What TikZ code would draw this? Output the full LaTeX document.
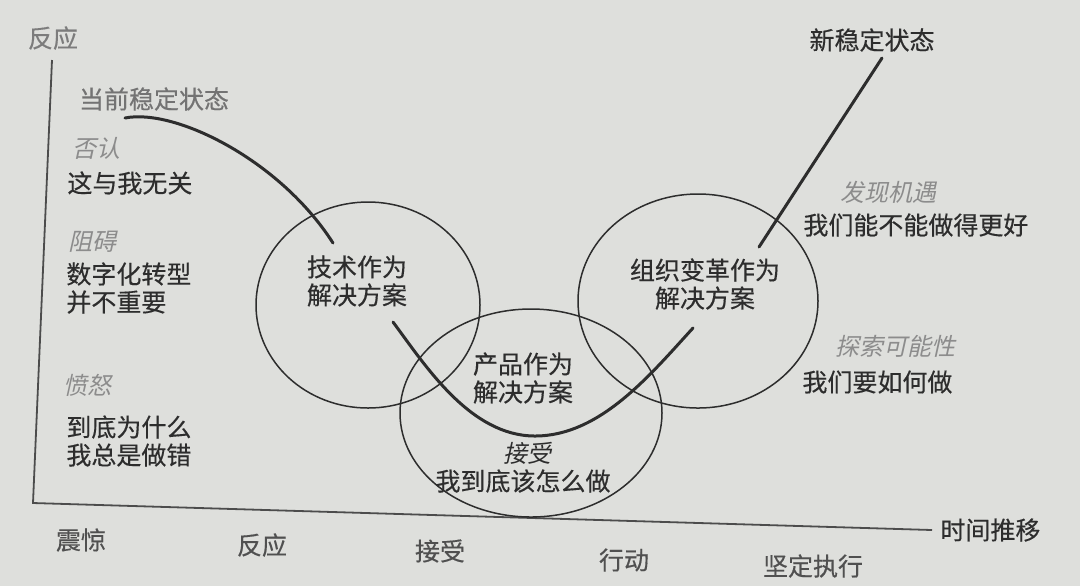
\documentclass[tikz,border=0pt]{standalone}
\usepackage{fontspec}
\setmainfont{Noto Sans CJK SC}
\newfontfamily\inkfont{Noto Sans CJK SC}[FakeBold=0.35]
\newfontfamily\slfont[FakeSlant=0.22]{Noto Sans CJK SC}
\usetikzlibrary{positioning}
\definecolor{paper}{RGB}{222,223,220}
\definecolor{ink}{RGB}{45,45,45}
\definecolor{faint}{RGB}{140,140,140}
\definecolor{mid}{RGB}{80,80,80}
\tikzset{
  txt/.style={inner sep=0pt,text=ink,font=\fontsize{12.5}{14}\selectfont\inkfont,align=left},
  ctxt/.style={txt,align=center},
  stage/.style={txt,text=faint,font=\fontsize{12}{14}\selectfont\slfont},
  tick/.style={txt,text=mid},
  axis/.style={draw=ink!85,line width=0.9pt},
  soln/.style={draw=ink,line width=0.75pt},
  curve/.style={draw=ink,line width=1.5pt,line cap=round}
}
\begin{document}
\begin{tikzpicture}[x=0.5pt,y=-0.5pt]
\fill[paper](0,0)rectangle(1080,586);
\useasboundingbox(0,0)rectangle(1080,586);
\coordinate(ytop)at(52,60);
\coordinate(o)at(33,503);
\coordinate(xend)at(932,530);
\draw[axis](ytop)--(o)--(xend);
\draw[soln](368,305)ellipse[x radius=112,y radius=103];
\draw[soln](698,301)ellipse[x radius=120,y radius=107];
\draw[soln](531,413)ellipse[x radius=131,y radius=104];
\coordinate(c0)at(125,118);
\coordinate(c1)at(333,243);
\coordinate(c2)at(393,322);
\coordinate(cb)at(535,436);
\coordinate(c3)at(693,328);
\coordinate(c4)at(759,247);
\coordinate(c5)at(882,58);
\draw[curve](c0)..controls(175,108)and(280,160)..(c1);
\draw[curve](c2)..controls(425,365)and(470,436)..(cb)..controls(600,436)and(650,375)..(c3);
\draw[curve](c4)--(c5);
\node[tick,text=mid!75](ylab)at(53,38){反应};
\node[tick,text=mid!80](cur)at(154,99){当前稳定状态};
\node[stage,anchor=west](deny)at(72,148){否认};
\node[txt,anchor=west](deny2)at(67,183){这与我无关};
\node[stage,anchor=west](block)at(68,242){阻碍};
\node[txt,anchor=west](block2)at(66,288){数字化转型\\并不重要};
\node[stage,anchor=west](anger)at(63,385){愤怒};
\node[txt,anchor=west](anger2)at(66,441){到底为什么\\我总是做错};
\node[ctxt](tech)at(357,281){技术作为\\解决方案};
\node[ctxt](org)at(705,284){组织变革作为\\解决方案};
\node[ctxt](prod)at(523,378){产品作为\\解决方案};
\node[stage,text=ink](acc)at(527,453){接受};
\node[ctxt](acc2)at(523,481){我到底该怎么做};
\node[txt](new)at(872,40){新稳定状态};
\node[stage,anchor=west](opp)at(840,192){发现机遇};
\node[txt,anchor=west](opp2)at(803,225){我们能不能做得更好};
\node[stage,anchor=west](expl)at(835,346){探索可能性};
\node[txt,anchor=west](expl2)at(802,382){我们要如何做};
\node[tick](t1)at(81,540){震惊};
\node[tick](t2)at(262,545){反应};
\node[tick](t3)at(440,551){接受};
\node[tick](t4)at(624,560){行动};
\node[tick](t5)at(813,566){坚定执行};
\node[txt,anchor=west](xlab)at(940,530){时间推移};
\end{tikzpicture}
\end{document}
